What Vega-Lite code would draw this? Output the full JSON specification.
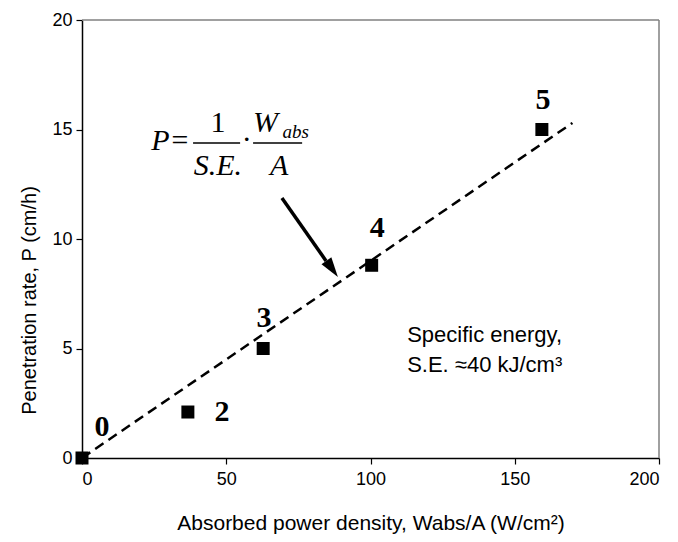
{
  "$schema": "https://vega.github.io/schema/vega-lite/v6.json",
  "autosize": {"type": "none"},
  "width": 577,
  "height": 438,
  "padding": {"left": 82, "top": 20, "right": 19, "bottom": 84},
  "background": "white",
  "config": {
    "view": {"stroke": null},
    "axis": {
      "grid": false,
      "labelFont": "Liberation Sans",
      "labelFontSize": 18,
      "labelColor": "black",
      "titleFont": "Liberation Sans",
      "titleFontSize": 20,
      "titleFontWeight": "normal",
      "titleColor": "black",
      "domainColor": "black",
      "domainWidth": 1.5,
      "tickColor": "black",
      "tickWidth": 1.2,
      "tickSize": 6
    }
  },
  "datasets": {
    "points": [
      {"W": 0, "P": 0},
      {"W": 36.7, "P": 2.1},
      {"W": 62.8, "P": 5.0},
      {"W": 100.4, "P": 8.8},
      {"W": 159.4, "P": 15.0}
    ],
    "labels": [
      {"lx": 6.9, "ly": 1.42, "t": "0"},
      {"lx": 48.5, "ly": 2.1, "t": "2"},
      {"lx": 63.1, "ly": 6.39, "t": "3"},
      {"lx": 102.3, "ly": 10.5, "t": "4"},
      {"lx": 159.8, "ly": 16.35, "t": "5"}
    ],
    "fit": [
      {"W": 0, "P": 0},
      {"W": 170, "P": 15.3}
    ],
    "arrow": [
      {"W": 69.3, "P": 11.87},
      {"W": 84.6, "P": 9.0}
    ],
    "tip": [{"W": 88.7, "P": 8.26}],
    "border": [
      {"x": 0, "x2": 200, "y": 20, "y2": 20},
      {"x": 200, "x2": 200, "y": 0, "y2": 20}
    ],
    "bars": [
      {"x": 38.5, "x2": 54.8, "y": 14.38},
      {"x": 59.3, "x2": 76.3, "y": 14.38}
    ]
  },
  "layer": [
    {
      "data": {"name": "border"},
      "mark": {"type": "rule", "color": "#808080", "strokeWidth": 1.5},
      "encoding": {
        "x": {"field": "x", "type": "quantitative", "scale": {"domain": [0, 200], "nice": false},
              "axis": {"values": [0, 50, 100, 150, 200], "title": "Absorbed power density, Wabs/A  (W/cm²)", "titleFontSize": 21, "labelPadding": 6, "titlePadding": 24}},
        "x2": {"field": "x2"},
        "y": {"field": "y", "type": "quantitative", "scale": {"domain": [0, 20], "nice": false},
              "axis": {"values": [0, 5, 10, 15, 20], "title": "Penetration rate, P (cm/h)", "labelPadding": 4, "titlePadding": 12, "titleY": 280}},
        "y2": {"field": "y2"}
      }
    },
    {
      "data": {"name": "fit"},
      "mark": {"type": "line", "color": "black", "strokeWidth": 2.5, "strokeDash": [10, 6]},
      "encoding": {
        "x": {"field": "W", "type": "quantitative"},
        "y": {"field": "P", "type": "quantitative"}
      }
    },
    {
      "data": {"name": "arrow"},
      "mark": {"type": "line", "color": "black", "strokeWidth": 3.5},
      "encoding": {
        "x": {"field": "W", "type": "quantitative"},
        "y": {"field": "P", "type": "quantitative"}
      }
    },
    {
      "data": {"name": "tip"},
      "mark": {"type": "point", "shape": "M0,0L0.6,2L-0.6,2Z", "filled": true, "color": "black", "opacity": 1, "size": 400, "angle": 145},
      "encoding": {
        "x": {"field": "W", "type": "quantitative"},
        "y": {"field": "P", "type": "quantitative"}
      }
    },
    {
      "data": {"name": "points"},
      "mark": {"type": "point", "shape": "square", "filled": true, "color": "black", "opacity": 1, "size": 169},
      "encoding": {
        "x": {"field": "W", "type": "quantitative"},
        "y": {"field": "P", "type": "quantitative"}
      }
    },
    {
      "data": {"name": "labels"},
      "mark": {"type": "text", "font": "Liberation Serif", "fontWeight": "bold", "fontSize": 30, "align": "center", "baseline": "middle", "color": "black"},
      "encoding": {
        "x": {"field": "lx", "type": "quantitative"},
        "y": {"field": "ly", "type": "quantitative"},
        "text": {"field": "t"}
      }
    },
    {
      "data": {"name": "bars"},
      "mark": {"type": "rule", "color": "black", "strokeWidth": 1.5},
      "encoding": {
        "x": {"field": "x", "type": "quantitative"},
        "x2": {"field": "x2"},
        "y": {"field": "y", "type": "quantitative"}
      }
    },
    {
      "data": {"values": [
        {"x": 24.0, "y": 14.06, "t": "P="},
        {"x": 59.3, "y": 14.9, "t": "W"}
      ]},
      "mark": {"type": "text", "font": "Liberation Serif", "fontStyle": "italic", "fontSize": 30, "align": "left", "baseline": "alphabetic", "color": "black"},
      "encoding": {
        "x": {"field": "x", "type": "quantitative"},
        "y": {"field": "y", "type": "quantitative"},
        "text": {"field": "t"}
      }
    },
    {
      "data": {"values": [
        {"x": 69.5, "y": 14.62, "t": "abs"}
      ]},
      "mark": {"type": "text", "font": "Liberation Serif", "fontStyle": "italic", "fontSize": 19, "align": "left", "baseline": "alphabetic", "color": "black"},
      "encoding": {
        "x": {"field": "x", "type": "quantitative"},
        "y": {"field": "y", "type": "quantitative"},
        "text": {"field": "t"}
      }
    },
    {
      "data": {"values": [
        {"x": 47.1, "y": 12.92, "t": "S.E."},
        {"x": 68.3, "y": 12.92, "t": "A"}
      ]},
      "mark": {"type": "text", "font": "Liberation Serif", "fontStyle": "italic", "fontSize": 30, "align": "center", "baseline": "alphabetic", "color": "black"},
      "encoding": {
        "x": {"field": "x", "type": "quantitative"},
        "y": {"field": "y", "type": "quantitative"},
        "text": {"field": "t"}
      }
    },
    {
      "data": {"values": [
        {"x": 47.1, "y": 14.9, "t": "1"},
        {"x": 57.1, "y": 14.1, "t": "·"}
      ]},
      "mark": {"type": "text", "font": "Liberation Serif", "fontSize": 30, "align": "center", "baseline": "alphabetic", "color": "black"},
      "encoding": {
        "x": {"field": "x", "type": "quantitative"},
        "y": {"field": "y", "type": "quantitative"},
        "text": {"field": "t"}
      }
    },
    {
      "data": {"values": [
        {"x": 112.7, "y": 5.3, "t": "Specific energy,"},
        {"x": 112.7, "y": 3.93, "t": "S.E. ≈40 kJ/cm³"}
      ]},
      "mark": {"type": "text", "font": "Liberation Sans", "fontSize": 22, "align": "left", "baseline": "alphabetic", "color": "black"},
      "encoding": {
        "x": {"field": "x", "type": "quantitative"},
        "y": {"field": "y", "type": "quantitative"},
        "text": {"field": "t"}
      }
    }
  ]
}
